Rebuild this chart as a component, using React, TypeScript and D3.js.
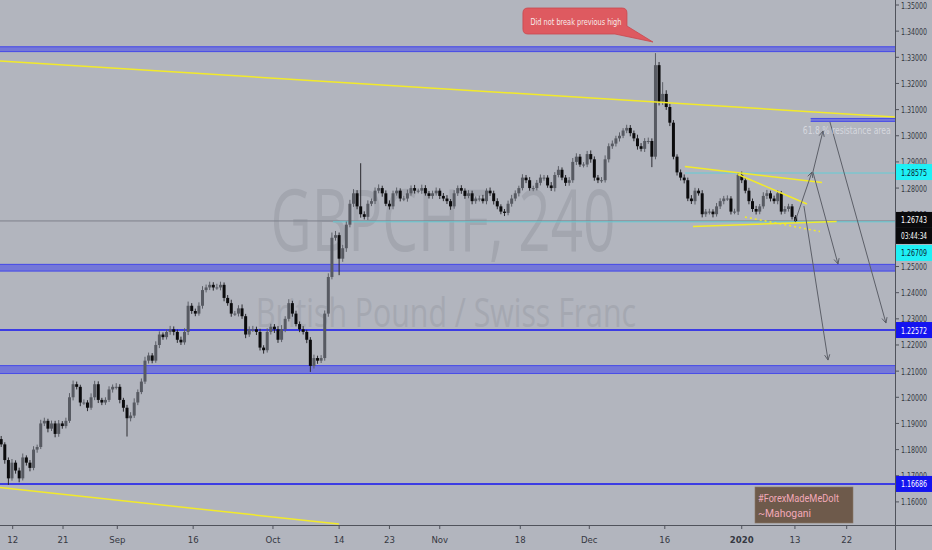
import React from 'react';
import * as d3 from 'd3';

const W = 932;
const H = 550;
const PLOT_R = 895;
const PLOT_B = 525;

// ---- candle data (12h bars, GBPCHF) ----
const FIRST_OPEN = 1.184;
const BAR_START_DAY = -1.6;
const BAR_STEP_DAY = 0.5;

const closes = [
  1.182, 1.176, 1.169, 1.175, 1.172, 1.169, 1.177, 1.175, 1.173, 1.18,
  1.181, 1.19, 1.191, 1.188, 1.19, 1.186, 1.19, 1.189, 1.191, 1.2,
  1.205, 1.204, 1.198, 1.198, 1.196, 1.2, 1.205, 1.199, 1.198, 1.199,
  1.203, 1.204, 1.204, 1.199, 1.196, 1.192, 1.193, 1.198, 1.202, 1.206,
  1.214, 1.216, 1.214, 1.22, 1.224, 1.223, 1.225, 1.226, 1.225, 1.222,
  1.221, 1.225, 1.235, 1.233, 1.232, 1.235, 1.241, 1.242, 1.243, 1.242,
  1.242, 1.243, 1.238, 1.236, 1.232, 1.232, 1.234, 1.231, 1.224, 1.226,
  1.226, 1.225, 1.219, 1.218, 1.225, 1.227, 1.226, 1.222, 1.226, 1.23,
  1.236, 1.232, 1.228, 1.226, 1.225, 1.222, 1.212, 1.215, 1.214, 1.215,
  1.232, 1.246, 1.261, 1.262, 1.253, 1.257, 1.266, 1.274, 1.278, 1.273,
  1.27, 1.269, 1.274, 1.275, 1.279, 1.28, 1.278, 1.274, 1.273, 1.278,
  1.279, 1.276, 1.276, 1.278, 1.28, 1.279, 1.279, 1.28, 1.278, 1.277,
  1.278, 1.279, 1.277, 1.276, 1.275, 1.273, 1.278, 1.28, 1.279, 1.277,
  1.278, 1.275, 1.276, 1.276, 1.275, 1.279, 1.278, 1.275, 1.273, 1.271,
  1.2705, 1.274, 1.276, 1.278, 1.28, 1.284, 1.283, 1.28, 1.28, 1.282,
  1.284, 1.284, 1.281, 1.28, 1.285, 1.287, 1.284, 1.282, 1.283, 1.29,
  1.292, 1.289, 1.289, 1.293, 1.291, 1.284, 1.283, 1.283, 1.291, 1.296,
  1.297, 1.299, 1.3, 1.302, 1.303, 1.301, 1.299, 1.296, 1.295, 1.298,
  1.298, 1.292, 1.327, 1.313, 1.316, 1.311, 1.305, 1.292, 1.286, 1.284,
  1.283, 1.276, 1.275, 1.279, 1.278, 1.27, 1.271, 1.271, 1.27, 1.273,
  1.275, 1.276, 1.276, 1.271, 1.271, 1.285, 1.283, 1.279, 1.275, 1.272,
  1.271, 1.273, 1.277, 1.278, 1.276, 1.275, 1.278, 1.271, 1.272, 1.273,
  1.269, 1.26743,
];

// wick lengths in pips
const upWick = [
  12, 8, 10, 14, 9, 11, 15, 8, 10, 13,
  9, 14, 12, 8, 11, 10, 13, 9, 12, 16,
  14, 10, 8, 12, 9, 15, 13, 11, 8, 10,
  12, 9, 14, 10, 8, 11, 13, 16, 10, 12,
  15, 11, 9, 14, 12, 8, 10, 13, 11, 9,
  12, 14, 16, 10, 9, 13, 15, 11, 12, 10,
  14, 12, 9, 11, 13, 10, 12, 15, 9, 11,
  13, 10, 12, 9, 14, 11, 10, 12, 16, 10,
  15, 9, 11, 10, 12, 8, 10, 13, 9, 11,
  12, 14, 20, 16, 10, 13, 12, 15, 16, 12,
  165, 11, 13, 10, 12, 14, 9, 11, 13, 10,
  12, 9, 11, 14, 10, 12, 8, 13, 11, 9,
  10, 12, 9, 11, 13, 8, 12, 10, 11, 9,
  12, 10, 8, 11, 14, 9, 12, 10, 11, 8,
  10, 12, 14, 11, 9, 13, 10, 12, 9, 11,
  12, 10, 9, 13, 11, 14, 9, 10, 12, 15,
  13, 10, 9, 12, 14, 11, 10, 12, 15, 11,
  12, 10, 13, 9, 12, 11, 10, 14, 12, 11,
  13, 10, 46, 12, 45, 14, 12, 10, 9, 11,
  12, 10, 13, 11, 9, 12, 10, 11, 9, 13,
  11, 10, 12, 9, 11, 10, 13, 9, 11, 10,
  12, 9, 14, 13, 10, 11, 12, 9, 11, 10,
  9, 7,
];

const downWick = [
  10, 14, 25, 9, 12, 15, 8, 11, 13, 9,
  12, 8, 10, 14, 9, 13, 11, 10, 9, 8,
  12, 10, 14, 9, 13, 8, 11, 12, 10, 9,
  8, 12, 10, 13, 15, 70, 12, 9, 10, 8,
  9, 11, 10, 8, 12, 10, 9, 11, 13, 12,
  10, 9, 12, 11, 10, 8, 11, 9, 10, 12,
  9, 11, 13, 10, 12, 9, 11, 10, 14, 9,
  10, 12, 11, 13, 9, 10, 14, 12, 9, 11,
  10, 12, 9, 11, 10, 13, 23, 10, 12, 9,
  10, 12, 9, 11, 63, 12, 14, 10, 12, 11,
  13, 10, 12, 9, 11, 10, 13, 9, 12, 11,
  9, 11, 10, 12, 9, 11, 10, 12, 9, 10,
  11, 9, 12, 10, 11, 13, 9, 10, 12, 11,
  9, 12, 10, 11, 9, 12, 10, 13, 11, 10,
  12, 9, 11, 10, 12, 9, 11, 10, 12, 9,
  10, 12, 9, 11, 13, 9, 10, 12, 11, 10,
  12, 9, 11, 10, 13, 12, 11, 10, 9, 12,
  10, 11, 12, 9, 10, 12, 11, 13, 10, 12,
  11, 40, 10, 14, 12, 11, 13, 10, 12, 11,
  12, 10, 11, 13, 9, 12, 10, 11, 12, 9,
  10, 12, 9, 11, 10, 13, 11, 10, 12, 11,
  11, 10, 9, 12, 11, 10, 12, 11, 9, 10,
  10, 6,
];

// ---- axes ----
const xTickLabels = ['12', '21', 'Sep', '16', 'Oct', '14', '23', 'Nov', '18', 'Dec', '16', '2020', '13', '22'];
const xTickDays = [0, 7, 14.55, 25.1, 36.2, 45.4, 52.4, 59.4, 70.6, 80.2, 90.7, 101.4, 108.8, 116];
const yTickValues = [
  1.16, 1.17, 1.18, 1.19, 1.2, 1.21, 1.22, 1.23, 1.24, 1.25,
  1.26, 1.27, 1.28, 1.29, 1.3, 1.31, 1.32, 1.33, 1.34, 1.35,
];

// ---- drawings (day, price) ----
const zoneLows = [1.332, 1.2481, 1.2089, 1.3053];
const zoneHighs = [1.3342, 1.251, 1.2123, 1.3068];
const zoneStartDays = [-3, -3, -3, 111];

const blueLevels = [1.22572, 1.16686];
const cyanLevels = [1.28575, 1.26709];
const cyanStartDays = [93.5, 44.55];
const lastPrice = 1.26743;

const yellowLines = [
  [[-1.77, 1.32859], [122.7, 1.30717]],
  [[-1.77, 1.16549], [45.38, 1.15153]],
  [[93.5, 1.28824], [112.56, 1.28212]],
  [[100.88, 1.28518], [110.47, 1.2739]],
  [[94.62, 1.2653], [114.6, 1.26721]],
];
const yellowDotted = [[101.85, 1.26893], [112.28, 1.26338]];

const arrows = [
  [[108.8, 1.26702], [111.17, 1.28614]],
  [[111.3, 1.28614], [114.79, 1.25096]],
  [[111.3, 1.28614], [112.7, 1.30182]],
  [[113.67, 1.30526], [121.46, 1.22839]],
  [[110.05, 1.27313], [113.4, 1.21424]],
];
const calloutTip = [89.05, 1.33585];

const BG = '#b2b5be';
const AXIS_FONT = "'Liberation Sans Narrow', 'DejaVu Sans Condensed', 'Roboto', sans-serif";

export default function App() {
  const x = d3.scaleLinear().domain([0, 116]).range([12.7, 846.7]);
  const y = d3.scaleLinear().domain([1.16, 1.35]).range([501.9, 5]);

  const bars = closes.map((c, i) => {
    const o = i === 0 ? FIRST_OPEN : closes[i - 1];
    const hi = Math.max(o, c) + upWick[i] / 10000;
    const lo = Math.min(o, c) - downWick[i] / 10000;
    return { t: BAR_START_DAY + i * BAR_STEP_DAY, o, c, hi, lo };
  });
  const bodyW = 3.0;

  const line = d3
    .line<number[]>()
    .x((d) => x(d[0]))
    .y((d) => y(d[1]));

  const arrowHead = (a: number[][]) => {
    const x1 = x(a[0][0]);
    const y1 = y(a[0][1]);
    const x2 = x(a[1][0]);
    const y2 = y(a[1][1]);
    const ang = Math.atan2(y2 - y1, x2 - x1);
    const L = 6;
    const s = 0.45;
    const p1 = [x2 - L * Math.cos(ang - s), y2 - L * Math.sin(ang - s)];
    const p2 = [x2 - L * Math.cos(ang + s), y2 - L * Math.sin(ang + s)];
    return `M${p1[0]},${p1[1]}L${x2},${y2}L${p2[0]},${p2[1]}`;
  };

  const tipX = x(calloutTip[0]);
  const tipY = y(calloutTip[1]);
  const bx = tipX - 130;
  const by = tipY - 34;
  const bw = 104;
  const bh = 26;
  const r = 5;
  const calloutPath =
    `M${bx + r},${by} H${bx + bw - r} Q${bx + bw},${by} ${bx + bw},${by + r} ` +
    `V${by + bh - 8} L${tipX},${tipY} L${bx + bw - 12},${by + bh} ` +
    `H${bx + r} Q${bx},${by + bh} ${bx},${by + bh - r} V${by + r} Q${bx},${by} ${bx + r},${by} Z`;

  const labelBox = (yc: number, bg: string, fg: string, text: string, key: string) => (
    <g key={key}>
      <rect x={PLOT_R + 1} y={yc - 8} width={W - PLOT_R - 1} height={16} fill={bg} />
      <text
        x={901}
        y={yc}
        dominantBaseline="central"
        fontFamily={AXIS_FONT}
        fontSize={9.5}
        fill={fg}
        textLength={26}
        lengthAdjust="spacingAndGlyphs"
      >
        {text}
      </text>
    </g>
  );

  return (
    <svg
      width={W}
      height={H}
      style={{ position: 'absolute', left: 0, top: 0, display: 'block' }}
      xmlns="http://www.w3.org/2000/svg"
    >
      <rect x={0} y={0} width={W} height={H} fill={BG} />
      <defs>
        <clipPath id="plot">
          <rect x={0} y={0} width={PLOT_R} height={PLOT_B} />
        </clipPath>
      </defs>

      {/* watermark */}
      <text
        x={443}
        y={251}
        textAnchor="middle"
        fontFamily="'Open Sans', 'DejaVu Sans', sans-serif"
        fontSize={86}
        fill="#a3a6af"
        textLength={345}
        lengthAdjust="spacingAndGlyphs"
      >
        GBPCHF, 240
      </text>
      <text
        x={446}
        y={327}
        textAnchor="middle"
        fontFamily="'Open Sans', 'DejaVu Sans', sans-serif"
        fontSize={40}
        fill="#a5a8b1"
        textLength={380}
        lengthAdjust="spacingAndGlyphs"
      >
        British Pound / Swiss Franc
      </text>

      <g clipPath="url(#plot)">
        {/* zones */}
        {zoneLows.map((lo, i) => (
          <g key={'z' + i}>
            <rect
              x={x(zoneStartDays[i])}
              y={y(zoneHighs[i])}
              width={PLOT_R - x(zoneStartDays[i])}
              height={y(lo) - y(zoneHighs[i])}
              fill="#7174d9"
              opacity={0.95}
            />
            <line x1={x(zoneStartDays[i])} x2={PLOT_R} y1={y(zoneHighs[i]) + 0.5} y2={y(zoneHighs[i]) + 0.5} stroke="#4a4ee6" strokeWidth={1} />
            <line x1={x(zoneStartDays[i])} x2={PLOT_R} y1={y(lo) - 0.5} y2={y(lo) - 0.5} stroke="#4a4ee6" strokeWidth={1} />
          </g>
        ))}

        {/* blue levels */}
        {blueLevels.map((v, i) => (
          <line key={'b' + i} x1={0} x2={PLOT_R} y1={y(v)} y2={y(v)} stroke="#1414f0" strokeWidth={1.5} />
        ))}

        {/* last price line */}
        <line x1={0} x2={PLOT_R} y1={y(lastPrice)} y2={y(lastPrice)} stroke="#7e818b" strokeWidth={1} />

        {/* cyan levels */}
        {cyanLevels.map((v, i) => (
          <line key={'c' + i} x1={x(cyanStartDays[i])} x2={PLOT_R} y1={y(v)} y2={y(v)} stroke="#63cdd6" strokeWidth={1} />
        ))}

        {/* candles */}
        {bars.map((b, i) => {
          const up = b.c >= b.o;
          const col = up ? '#575a62' : '#0b0b0d';
          const cx = x(b.t);
          const top = y(Math.max(b.o, b.c));
          const bot = y(Math.min(b.o, b.c));
          return (
            <g key={'k' + i}>
              <line x1={cx} x2={cx} y1={y(b.hi)} y2={y(b.lo)} stroke={up ? '#5c5f67' : '#2a2a2f'} strokeWidth={1} />
              <rect x={cx - bodyW / 2} y={top} width={bodyW} height={Math.max(1, bot - top)} fill={col} />
            </g>
          );
        })}

        {/* yellow trend lines */}
        {yellowLines.map((l, i) => (
          <path key={'y' + i} d={line(l) || ''} stroke="#f2ea2a" strokeWidth={1.5} fill="none" />
        ))}
        <path d={line(yellowDotted) || ''} stroke="#f2ea2a" strokeWidth={1.5} strokeDasharray="2,3" fill="none" />

        {/* arrows */}
        {arrows.map((a, i) => (
          <g key={'a' + i}>
            <path d={line(a) || ''} stroke="#5c5f68" strokeWidth={1} fill="none" />
            <path d={arrowHead(a)} stroke="#5c5f68" strokeWidth={1} fill="none" />
          </g>
        ))}

        {/* 61.8 label */}
        <text
          x={x(zoneStartDays[3]) - 8}
          y={y(zoneLows[3]) + 9}
          dominantBaseline="central"
          fontFamily={AXIS_FONT}
          fontSize={10}
          fill="#dcdee3"
          opacity={0.85}
          textLength={88}
          lengthAdjust="spacingAndGlyphs"
        >
          61.8 % resistance area
        </text>

        {/* callout */}
        <path d={calloutPath} fill="#de5a60" stroke="#c9484e" strokeWidth={0.8} />
        <text
          x={bx + bw / 2 + 1}
          y={by + bh / 2 + 0.5}
          textAnchor="middle"
          dominantBaseline="central"
          fontFamily={AXIS_FONT}
          fontSize={9.5}
          fill="#f6eaea"
          textLength={91}
          lengthAdjust="spacingAndGlyphs"
        >
          Did not break previous high
        </text>

        {/* signature box */}
        <rect x={755} y={487} width={98} height={36} fill="#6e5a4b" stroke="#8a7868" strokeWidth={0.6} />
        <text x={758} y={498} dominantBaseline="central" fontFamily="'Roboto', sans-serif" fontSize={11.5} fill="#f2a9b9" textLength={81} lengthAdjust="spacingAndGlyphs">
          #ForexMadeMeDoIt
        </text>
        <text x={758} y={513} dominantBaseline="central" fontFamily="'Roboto', sans-serif" fontSize={11.5} fill="#f2a9b9" textLength={53} lengthAdjust="spacingAndGlyphs">
          ~Mahogani
        </text>
      </g>

      {/* right axis */}
      <line x1={PLOT_R + 0.5} x2={PLOT_R + 0.5} y1={0} y2={H} stroke="#50535c" strokeWidth={1} />
      {yTickValues.map((v) => (
        <g key={'yt' + v}>
          <line x1={PLOT_R} x2={PLOT_R + 4} y1={y(v)} y2={y(v)} stroke="#50535c" strokeWidth={1} />
          <text
            x={901}
            y={y(v)}
            dominantBaseline="central"
            fontFamily={AXIS_FONT}
            fontSize={9.5}
            fill="#353842"
            textLength={26}
            lengthAdjust="spacingAndGlyphs"
          >
            {v.toFixed(5)}
          </text>
        </g>
      ))}

      {/* axis price labels */}
      {labelBox(y(cyanLevels[0]) - 1, '#1ff0f5', '#0c1a33', cyanLevels[0].toFixed(5), 'l1')}
      {labelBox(y(lastPrice) - 1, '#0a0a0c', '#ffffff', lastPrice.toFixed(5), 'l2')}
      {labelBox(y(lastPrice) + 15, '#0a0a0c', '#ffffff', '03:44:34', 'l3')}
      {labelBox(y(lastPrice) + 32, '#1ff0f5', '#0c1a33', cyanLevels[1].toFixed(5), 'l4')}
      {labelBox(y(blueLevels[0]), '#1414f0', '#ffffff', blueLevels[0].toFixed(5), 'l5')}
      {labelBox(y(blueLevels[1]), '#1414f0', '#ffffff', blueLevels[1].toFixed(5), 'l6')}

      {/* bottom axis */}
      <line x1={0} x2={W} y1={PLOT_B + 0.5} y2={PLOT_B + 0.5} stroke="#50535c" strokeWidth={1} />
      {xTickDays.map((d, i) => (
        <g key={'xt' + i}>
          <line x1={x(d)} x2={x(d)} y1={PLOT_B} y2={PLOT_B + 4} stroke="#50535c" strokeWidth={1} />
          <text
            x={x(d)}
            y={539}
            textAnchor="middle"
            dominantBaseline="central"
            fontFamily={AXIS_FONT}
            fontSize={9.5}
            fontWeight={xTickLabels[i] === '2020' ? 'bold' : 'normal'}
            fill="#353842"
          >
            {xTickLabels[i]}
          </text>
        </g>
      ))}
    </svg>
  );
}
